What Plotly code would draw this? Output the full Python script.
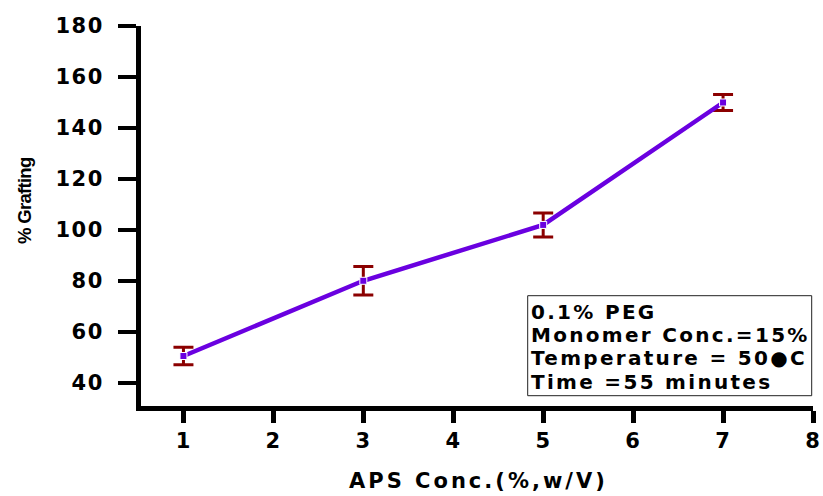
import plotly.graph_objects as go

# Data
aps_conc = [1, 3, 5, 7]
grafting = [50.6, 80.1, 102.0, 150.0]
grafting_err = [3.4, 5.6, 4.7, 3.1]

x_ticks = [1, 2, 3, 4, 5, 6, 7, 8]
y_ticks = [40, 60, 80, 100, 120, 140, 160, 180]

info_lines = ["0.1% PEG", "Monomer Conc.=15%", "Temperature = 50\u25cfC", "Time =55 minutes"]

PURPLE = "#6a00e0"
DARKRED = "#8b0000"
FONT = "DejaVu Sans"

L, R, T, B = 141, 10, 26, 90
PW, PH = 823 - L - R, 496 - T - B


def spaced(s, px):
    return "<span style='letter-spacing:%spx'>%s</span>" % (px, s)


fig = go.Figure()
fig.add_trace(go.Scatter(
    x=aps_conc, y=grafting,
    mode="lines+markers",
    line=dict(color=PURPLE, width=4.5),
    marker=dict(symbol="square", size=7, color=PURPLE, line=dict(color="white", width=1)),
    error_y=dict(type="data", array=grafting_err, visible=True, color=DARKRED, thickness=3, width=10),
    showlegend=False,
))

fig.update_layout(
    width=823, height=496,
    margin=dict(l=L, r=R, t=T, b=B, autoexpand=False),
    plot_bgcolor="white", paper_bgcolor="white",
    font=dict(family=FONT, color="black"),
)
fig.update_xaxes(
    range=[0.528, 8.0], tickvals=x_ticks, ticktext=[spaced(str(v), 1) for v in x_ticks],
    showgrid=False, zeroline=False, automargin=False,
    showline=True, linecolor="black", linewidth=5,
    ticks="outside", ticklen=12, tickwidth=5, tickcolor="black",
    tickfont=dict(family=FONT, size=21, color="black", weight="bold"),
)
fig.update_yaxes(
    range=[31, 180], tickvals=y_ticks, ticktext=[spaced(str(v), 1.5) for v in y_ticks],
    showgrid=False, zeroline=False, automargin=False,
    showline=True, linecolor="black", linewidth=5,
    ticks="outside", ticklen=18, tickwidth=4, tickcolor="black", ticklabelstandoff=10,
    tickfont=dict(family=FONT, size=21, color="black", weight="bold"),
)

# axis titles
fig.add_annotation(
    text="<b>" + spaced("APS Conc.(%,w/V)", 3) + "</b>",
    xref="paper", yref="paper", x=(478 - L) / PW, y=(496 - B - 481) / PH,
    xanchor="center", yanchor="middle",
    showarrow=False, font=dict(family=FONT, size=21, color="black"),
)
fig.add_annotation(
    text="<b>" + spaced("% Grafting", -0.7) + "</b>",
    xref="paper", yref="paper", x=(24 - L) / PW, y=(496 - B - 201) / PH,
    xanchor="center", yanchor="middle",
    textangle=-90, showarrow=False,
    font=dict(family="Liberation Sans", size=18.5, color="black"),
)

# info box
fig.add_shape(type="rect", xref="paper", yref="paper",
              x0=(527.7 - L) / PW, x1=(811.7 - L) / PW,
              y0=(406 - 395.7) / PH, y1=(406 - 295.7) / PH,
              line=dict(color="#222222", width=1), fillcolor="rgba(0,0,0,0)")
centers_px = [311.7, 335.0, 358.3, 381.7]
for line_txt, cy in zip(info_lines, centers_px):
    fig.add_annotation(
        text="<b>" + spaced(line_txt, 2.3) + "</b>",
        xref="paper", yref="paper", x=(529 - L) / PW, y=(406 - cy) / PH,
        xanchor="left", yanchor="middle", showarrow=False,
        font=dict(family=FONT, size=20, color="black"),
    )

fig.write_html("out.html")
